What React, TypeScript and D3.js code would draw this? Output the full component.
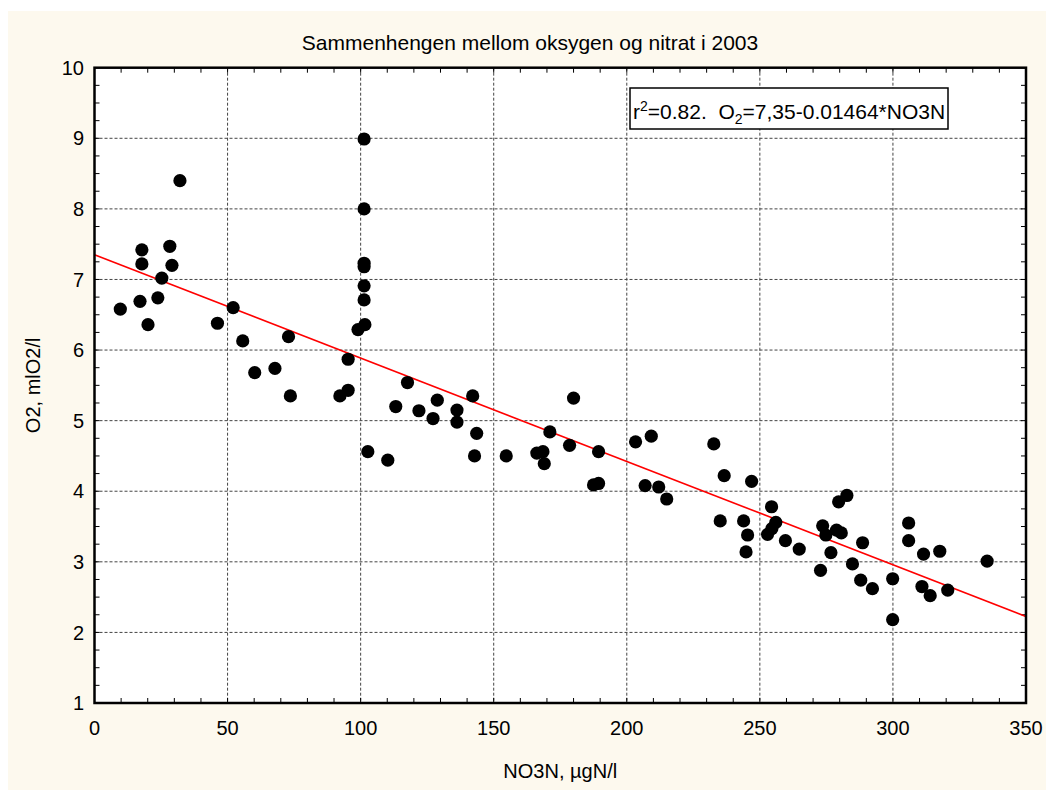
import React from "react";
import * as d3 from "d3";

const xValues: number[] = [
  9.7, 17.1, 17.8, 17.8, 20.1, 23.8, 25.3, 28.3, 29.1, 32.1, 46.2, 52.1, 55.7, 60.2, 67.8, 72.9, 73.6,
  92.2, 95.3, 95.3, 99, 101.6, 101.3, 101.3, 101.3, 101.3, 101.3, 101.3, 102.7, 110.2, 113.2, 117.6,
  121.9, 127.2, 128.8, 136.2, 136.2, 142.1, 142.8, 143.6, 154.7, 166.2, 168.5, 169, 171.1, 178.5, 180,
  187.5, 189.4, 189.4,
  203.3, 206.9, 209.2, 212, 215, 232.7, 235.1, 236.6, 243.9, 244.8, 245.4, 246.9, 252.9, 254.5, 256,
  254.4, 259.6, 264.8,
  272.8, 273.6, 274.8, 276.7, 278.8, 280.6, 279.6, 282.7, 284.8, 287.9, 288.6, 292.3, 299.9, 299.9,
  305.9, 305.9, 310.9, 311.5, 314, 317.6, 320.6, 335.4,
];
const o2Values: number[] = [
  6.58, 6.69, 7.42, 7.22, 6.36, 6.74, 7.02, 7.47, 7.2, 8.4, 6.38, 6.6, 6.13, 5.68, 5.74, 6.19, 5.35,
  5.35, 5.43, 5.87, 6.29, 6.36, 6.71, 6.91, 7.18, 7.23, 8.0, 8.99, 4.56, 4.44, 5.2, 5.54,
  5.14, 5.03, 5.29, 5.15, 4.98, 5.35, 4.5, 4.82, 4.5, 4.54, 4.56, 4.39, 4.84, 4.65, 5.32,
  4.09, 4.11, 4.56,
  4.7, 4.08, 4.78, 4.06, 3.89, 4.67, 3.58, 4.22, 3.58, 3.14, 3.38, 4.14, 3.39, 3.47, 3.56,
  3.78, 3.3, 3.18,
  2.88, 3.51, 3.38, 3.13, 3.45, 3.41, 3.85, 3.94, 2.97, 2.74, 3.27, 2.62, 2.76, 2.18,
  3.55, 3.3, 2.65, 3.11, 2.52, 3.15, 2.6, 3.01,
];

const xTicks: number[] = [0, 50, 100, 150, 200, 250, 300, 350];
const yTicks: number[] = [1, 2, 3, 4, 5, 6, 7, 8, 9, 10];
const fitIntercept = 7.35;
const fitSlope = -0.01464;

const FONT = "'Liberation Sans', Arial, sans-serif";

export default function App() {
  const W = 1046;
  const H = 790;
  const x = d3.scaleLinear().domain([0, 350]).range([94.5, 1026]);
  const y = d3.scaleLinear().domain([1, 10]).range([703, 67.7]);
  const [x0, x1] = x.range();
  const [yb, yt] = y.range();

  const xMinor = d3.range(0, 351, 10);
  const yMinor = d3.range(1, 10.001, 0.25);

  const fitLine = d3
    .line<number>()
    .x((d) => x(d))
    .y((d) => y(fitIntercept + fitSlope * d));

  const tickLen = 5;

  return (
    <svg
      width={W}
      height={H}
      style={{ position: "absolute", left: 0, top: 0, display: "block" }}
      fontFamily={FONT}
    >
      <rect x={0} y={0} width={W} height={H} fill="#ffffff" />
      <rect x={8} y={11} width={W - 8} height={H - 11} fill="#FDF9EE" />
      <rect x={x0} y={yt} width={x1 - x0} height={yb - yt} fill="#ffffff" />

      {/* grid */}
      {xTicks.slice(1, -1).map((t) => (
        <line
          key={"gx" + t}
          x1={x(t)}
          x2={x(t)}
          y1={yt}
          y2={yb}
          stroke="#444"
          strokeWidth={1}
          strokeDasharray="3,2"
        />
      ))}
      {yTicks.slice(1, -1).map((t) => (
        <line
          key={"gy" + t}
          x1={x0}
          x2={x1}
          y1={y(t)}
          y2={y(t)}
          stroke="#444"
          strokeWidth={1}
          strokeDasharray="3,2"
        />
      ))}

      {/* ticks inside */}
      {xMinor.map((t) => (
        <g key={"tx" + t}>
          <line x1={x(t)} x2={x(t)} y1={yb} y2={yb - tickLen} stroke="#000" strokeWidth={1} />
          <line x1={x(t)} x2={x(t)} y1={yt} y2={yt + tickLen} stroke="#000" strokeWidth={1} />
        </g>
      ))}
      {yMinor.map((t) => (
        <g key={"ty" + t}>
          <line x1={x0} x2={x0 + tickLen} y1={y(t)} y2={y(t)} stroke="#000" strokeWidth={1} />
          <line x1={x1} x2={x1 - tickLen} y1={y(t)} y2={y(t)} stroke="#000" strokeWidth={1} />
        </g>
      ))}

      {/* regression line */}
      <path d={fitLine([0, 350]) || ""} fill="none" stroke="#FF0000" strokeWidth={1.6} />

      {/* points */}
      {xValues.map((v, i) => (
        <circle key={"p" + i} cx={x(v)} cy={y(o2Values[i])} r={6.6} fill="#000" />
      ))}

      {/* frame */}
      <rect
        x={x0}
        y={yt}
        width={x1 - x0}
        height={yb - yt}
        fill="none"
        stroke="#000"
        strokeWidth={2.5}
      />

      {/* tick labels */}
      {xTicks.map((t) => (
        <text key={"lx" + t} x={x(t)} y={735} textAnchor="middle" fontSize={20} fill="#000">
          {t}
        </text>
      ))}
      {yTicks.map((t) => (
        <text
          key={"ly" + t}
          x={84}
          y={y(t)}
          dy="0.36em"
          textAnchor="end"
          fontSize={20}
          fill="#000"
        >
          {t}
        </text>
      ))}

      {/* title */}
      <text x={530} y={50} textAnchor="middle" fontSize={21} fill="#000">
        Sammenhengen mellom oksygen og nitrat i 2003
      </text>

      {/* axis labels */}
      <text x={(x0 + x1) / 2} y={778} textAnchor="middle" fontSize={20} fill="#000">
        NO3N, µgN/l
      </text>
      <text
        transform={`translate(40, ${(yt + yb) / 2}) rotate(-90)`}
        textAnchor="middle"
        fontSize={20}
        fill="#000"
      >
        O2, mlO2/l
      </text>

      {/* equation box */}
      <rect x={630} y={88} width={318} height={41} fill="#ffffff" stroke="#000" strokeWidth={1.5} />
      <text x={633} y={119} fontSize={21} fill="#000">
        <tspan>r</tspan>
        <tspan fontSize={14} dy={-8}>2</tspan>
        <tspan dy={8}>{"=0.82.\u00A0\u00A0O"}</tspan>
        <tspan fontSize={14} dy={5}>2</tspan>
        <tspan dy={-5}>=7,35-0.01464*NO3N</tspan>
      </text>
    </svg>
  );
}
